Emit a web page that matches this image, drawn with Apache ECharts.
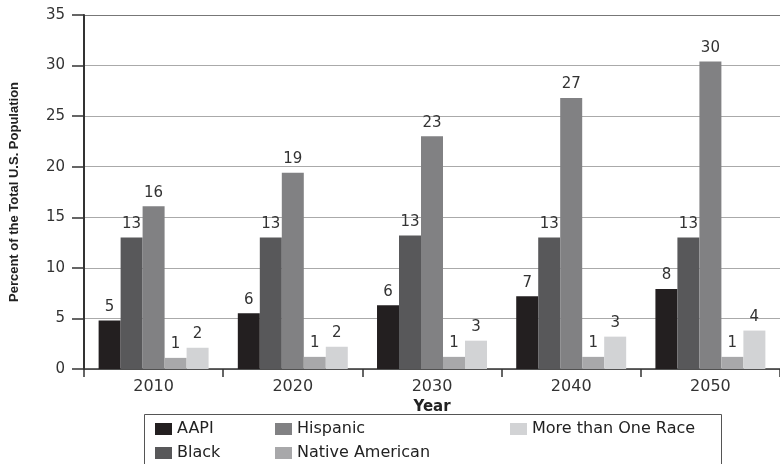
<!DOCTYPE html>
<html>
<head>
<meta charset="utf-8">
<script src="https://cdn.jsdelivr.net/npm/echarts@6/dist/echarts.min.js"></script>
<style>
  html, body { margin: 0; padding: 0; background: #fff; }
  #chart { width: 780px; height: 464px; }
</style>
</head>
<body>
<div id="chart"></div>
<script>
// Projected share of the U.S. population by group, in percent
const years = ['2010', '2020', '2030', '2040', '2050'];
const aapi = [4.8, 5.5, 6.3, 7.2, 7.9];
const black = [13.0, 13.0, 13.2, 13.0, 13.0];
const hispanic = [16.1, 19.4, 23.0, 26.8, 30.4];
const nativeAmerican = [1.1, 1.2, 1.2, 1.2, 1.2];
const moreThanOne = [2.1, 2.2, 2.8, 3.2, 3.8];
const yTicks = [0, 5, 10, 15, 20, 25, 30, 35];

const groups = [
  { name: 'AAPI', values: aapi, color: '#231f20' },
  { name: 'Black', values: black, color: '#58585a' },
  { name: 'Hispanic', values: hispanic, color: '#818183' },
  { name: 'Native American', values: nativeAmerican, color: '#a8a8aa' },
  { name: 'More than One Race', values: moreThanOne, color: '#d2d3d5' }
];

// legend grid: three columns, two rows, filled column by column
const legendSlots = [
  { left: 155, top: 421 },
  { left: 155, top: 445 },
  { left: 275, top: 421 },
  { left: 275, top: 445 },
  { left: 510, top: 421 }
];

const font = '"DejaVu Sans", "Liberation Sans", Arial, sans-serif';
const chart = echarts.init(document.getElementById('chart'), null, { renderer: 'canvas' });

chart.setOption({
  animation: false,
  backgroundColor: '#fff',
  grid: { left: 82, right: -7, top: 15, bottom: 95, containLabel: false },
  legend: groups.map((g, i) => ({
    data: [g.name],
    left: legendSlots[i].left,
    top: legendSlots[i].top,
    padding: 0,
    itemWidth: 17,
    itemHeight: 12,
    icon: 'rect',
    selectedMode: false,
    textStyle: { fontFamily: font, fontSize: 16, color: '#222' }
  })),
  graphic: [{
    type: 'rect',
    shape: { x: 144.5, y: 414.5, width: 577, height: 60 },
    style: { fill: 'none', stroke: '#555', lineWidth: 1 },
    silent: true,
    z: 0
  }],
  xAxis: {
    type: 'category',
    data: years,
    name: 'Year',
    nameLocation: 'middle',
    nameGap: 27,
    nameTextStyle: { fontFamily: font, fontSize: 15, fontWeight: 'bold', color: '#222' },
    axisLine: { lineStyle: { color: '#333', width: 1.5 } },
    axisTick: { show: true, length: 8, lineStyle: { color: '#333', width: 1.5 } },
    axisLabel: { fontFamily: font, fontSize: 16, color: '#333', margin: 10 }
  },
  yAxis: {
    type: 'value',
    min: yTicks[0],
    max: yTicks[yTicks.length - 1],
    interval: 5,
    name: 'Percent of the Total U.S. Population',
    nameLocation: 'middle',
    nameGap: 63,
    nameTextStyle: { fontFamily: '"Liberation Sans", Arial, sans-serif', fontSize: 13, fontWeight: 'bold', color: '#222' },
    axisLine: { show: true, lineStyle: { color: '#333', width: 2 } },
    axisTick: { show: true, length: 12, lineStyle: { color: '#333', width: 1.5 } },
    axisLabel: { fontFamily: font, fontSize: 15, color: '#333', margin: 19 },
    splitLine: {
      show: true,
      lineStyle: { color: ['#aaa', '#aaa', '#aaa', '#aaa', '#aaa', '#aaa', '#aaa', '#777'], width: 1.2 }
    }
  },
  series: groups.map(g => ({
    name: g.name,
    type: 'bar',
    data: g.values,
    barGap: '0%',
    barCategoryGap: '21%',
    itemStyle: { color: g.color },
    label: {
      show: true,
      position: 'top',
      distance: 6,
      fontFamily: font,
      fontSize: 15,
      color: '#333',
      formatter: p => String(Math.round(p.value))
    }
  }))
});
</script>
</body>
</html>
